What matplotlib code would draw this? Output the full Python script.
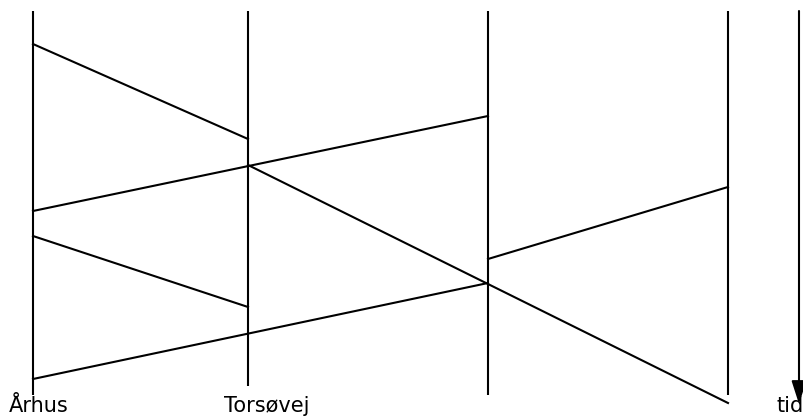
import matplotlib.pyplot as plt

# station positions along the route (distance units) and their labels
stations = [33, 248, 488, 728]
station_labels = ["Århus", "Torsøvej", "", ""]

# messages: start station index, end station index, send time, arrival time
msg_from = [0, 0, 1, 0, 0, 2]
msg_to = [1, 2, 3, 1, 2, 3]
msg_t0 = [44, 211, 165, 236, 379, 259]
msg_t1 = [139, 116, 403, 307, 283, 187]

# how far down each station line runs
station_end = [395, 386, 395, 395]

fig = plt.figure(figsize=(8.04, 4.17), dpi=100)
ax = fig.add_axes([0, 0, 1, 1])
ax.set_xlim(0, 804)
ax.set_ylim(417, 0)
ax.axis("off")

for x, end in zip(stations, station_end):
    ax.plot([x, x], [11, end], color="black", lw=1.5, solid_capstyle="butt")

for a, b, t0, t1 in zip(msg_from, msg_to, msg_t0, msg_t1):
    ax.plot([stations[a], stations[b]], [t0, t1], color="black", lw=1.5)

for x, lab in zip(stations, station_labels):
    if lab:
        ax.text(x - 24, 412, lab, ha="left", va="baseline", fontsize=15,
                family="DejaVu Sans")

# time axis arrow
ax.annotate("", xy=(799, 404), xytext=(799, 11),
            arrowprops=dict(arrowstyle="-|>,head_length=1.4,head_width=0.45",
                            color="black", lw=1.5, shrinkA=0, shrinkB=0))
ax.text(777, 412, "tid", ha="left", va="baseline", fontsize=15,
        family="DejaVu Sans")

fig.savefig("out.png", dpi=100)
